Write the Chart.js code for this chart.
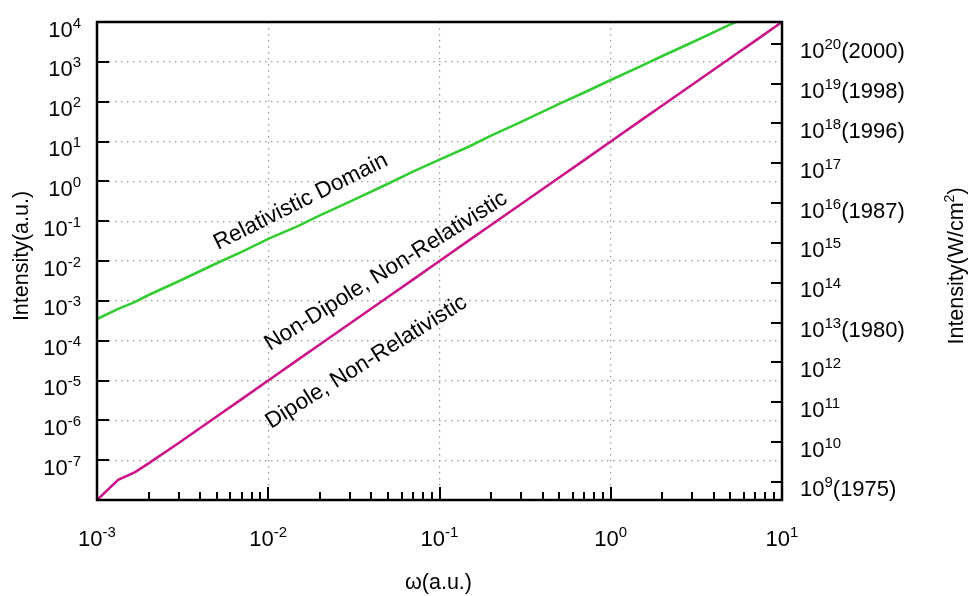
<!DOCTYPE html>
<html>
<head>
<meta charset="utf-8">
<script src="https://cdn.jsdelivr.net/npm/chart.js@4.4.0/dist/chart.umd.min.js"></script>
<style>
  html, body { margin: 0; padding: 0; background: #ffffff; }
  #wrap { width: 968px; height: 596px; position: relative; }
</style>
</head>
<body>
<div id="wrap"><canvas id="c" width="968" height="596"></canvas></div>
<script>
// Laser frequency (atomic units)
const omega = [0.001, 0.00133, 0.00167, 0.002, 0.003, 0.005, 0.007, 0.01, 0.015, 0.02, 0.03, 0.05, 0.07,
               0.1, 0.15, 0.2, 0.3, 0.5, 0.7, 1, 1.5, 2, 3, 5, 5.4, 7, 10];
// Boundary of the relativistic domain (a.u.)
const relativistic = [3.5e-4, 6.3e-4, 9.4e-4, 1.4e-3, 3.1e-3, 8.8e-3, 1.7e-2, 3.6e-2, 7.6e-2, 0.14, 0.31, 0.87, 1.75,
                      3.5, 7.6, 14, 31, 88, 170, 350, 780, 1400, 3100, 8700, 1.0e4, null, null];
// Boundary between dipole and non-dipole regimes (a.u.)
const dipole = [1.0e-8, 3.2e-8, 5.0e-8, 8.3e-8, 2.7e-7, 1.25e-6, 3.4e-6, 1.0e-5, 3.4e-5, 8.0e-5, 2.7e-4, 1.25e-3, 3.4e-3,
                1.0e-2, 3.4e-2, 8.0e-2, 0.27, 1.25, 3.4, 10, 34, 80, 270, 1250, 1570, 3400, 1.0e4];

// Axis ticks (exponents of ten)
const xTickExp = [-3, -2, -1, 0, 1];
const leftTickExp = [4, 3, 2, 1, 0, -1, -2, -3, -4, -5, -6, -7];
const rightTickExp = [20, 19, 18, 17, 16, 15, 14, 13, 12, 11, 10, 9];
const rightTickYears = { 20: '(2000)', 19: '(1998)', 18: '(1996)', 16: '(1987)', 13: '(1980)', 9: '(1975)' };

// 1 a.u. of intensity in W/cm^2
const AU_INTENSITY = 3.51e16;
const yMinAU = 1e-8, yMaxAU = 1e4;

const FONT = '"Liberation Sans", Arial, Helvetica, sans-serif';
const BASE_PX = 22, SUP_PX = 15;

function drawPower(ctx, exp, suffix, x, y, align) {
  ctx.font = BASE_PX + 'px ' + FONT;
  const wb = ctx.measureText('10').width;
  const wt = suffix ? ctx.measureText(suffix).width : 0;
  ctx.font = SUP_PX + 'px ' + FONT;
  const ws = ctx.measureText(String(exp)).width;
  const total = wb + ws + wt;
  const x0 = align === 'right' ? x - total : (align === 'center' ? x - total / 2 : x);
  ctx.textAlign = 'left';
  ctx.textBaseline = 'alphabetic';
  ctx.font = BASE_PX + 'px ' + FONT;
  ctx.fillText('10', x0, y);
  ctx.font = SUP_PX + 'px ' + FONT;
  ctx.fillText(String(exp), x0 + wb, y - 9);
  if (suffix) {
    ctx.font = BASE_PX + 'px ' + FONT;
    ctx.fillText(suffix, x0 + wb + ws, y);
  }
}

const regionLabels = [
  { text: 'Relativistic Domain', x: 218, y: 250, angle: 26.5, size: 22.5 },
  { text: 'Non-Dipole, Non-Relativistic', x: 270, y: 351, angle: 32, size: 22.5 },
  { text: 'Dipole, Non-Relativistic', x: 271, y: 429, angle: 32, size: 22.5 }
];

const decorations = {
  id: 'decorations',
  afterDraw(chart) {
    const ctx = chart.ctx;
    const a = chart.chartArea;
    const xs = chart.scales.x, yl = chart.scales.y, yr = chart.scales.y2;
    ctx.save();
    ctx.fillStyle = '#000';
    ctx.strokeStyle = '#000';

    // inward tick marks
    ctx.lineWidth = 2;
    ctx.beginPath();
    for (let e = -3; e <= 0; e++) {
      for (let m = 1; m <= 9; m++) {
        const v = m * Math.pow(10, e);
        const px = Math.round(xs.getPixelForValue(v));
        const len = m === 1 ? 13 : 8;
        ctx.moveTo(px, a.bottom);
        ctx.lineTo(px, a.bottom - len);
      }
    }
    leftTickExp.forEach(e => {
      const py = Math.round(yl.getPixelForValue(Math.pow(10, e)));
      ctx.moveTo(a.left, py);
      ctx.lineTo(a.left + 12, py);
    });
    rightTickExp.forEach(e => {
      const py = Math.round(yr.getPixelForValue(Math.pow(10, e)));
      ctx.moveTo(a.right, py);
      ctx.lineTo(a.right - 11, py);
    });
    ctx.stroke();

    // frame
    ctx.lineWidth = 2.5;
    ctx.strokeRect(a.left, a.top, a.right - a.left, a.bottom - a.top);

    // tick labels
    leftTickExp.forEach(e => {
      const py = yl.getPixelForValue(Math.pow(10, e));
      drawPower(ctx, e, '', a.left - 16, py + 14.5, 'right');
    });
    xTickExp.forEach(e => {
      const px = xs.getPixelForValue(Math.pow(10, e));
      drawPower(ctx, e, '', px, a.bottom + 46, 'center');
    });
    rightTickExp.forEach(e => {
      const py = yr.getPixelForValue(Math.pow(10, e));
      drawPower(ctx, e, rightTickYears[e] || '', a.right + 18, py + 14.5, 'left');
    });

    // axis titles
    ctx.font = '21.5px ' + FONT;
    ctx.textAlign = 'center';
    ctx.textBaseline = 'alphabetic';
    ctx.fillText('\u03c9(a.u.)', (a.left + a.right) / 2 - 1, 589);

    ctx.save();
    ctx.translate(28, 256);
    ctx.rotate(-Math.PI / 2);
    ctx.fillText('Intensity(a.u.)', 0, 0);
    ctx.restore();

    ctx.save();
    ctx.translate(963, 266);
    ctx.rotate(-Math.PI / 2);
    ctx.font = '21.5px ' + FONT;
    const p1 = 'Intensity(W/cm', p2 = ')';
    const w1 = ctx.measureText(p1).width, w3 = ctx.measureText(p2).width;
    ctx.font = '14px ' + FONT;
    const w2 = ctx.measureText('2').width;
    let x0 = -(w1 + w2 + w3) / 2;
    ctx.textAlign = 'left';
    ctx.font = '21.5px ' + FONT;
    ctx.fillText(p1, x0, 0);
    ctx.font = '14px ' + FONT;
    ctx.fillText('2', x0 + w1, -9);
    ctx.font = '21.5px ' + FONT;
    ctx.fillText(p2, x0 + w1 + w2, 0);
    ctx.restore();

    // region labels
    ctx.textAlign = 'left';
    regionLabels.forEach(l => {
      ctx.save();
      ctx.font = l.size + 'px ' + FONT;
      ctx.translate(l.x, l.y);
      ctx.rotate(-l.angle * Math.PI / 180);
      ctx.fillText(l.text, 0, 0);
      ctx.restore();
    });

    ctx.restore();
  }
};

const toPoints = ys => omega.map((w, i) => ({ x: w, y: ys[i] }));

const decadeTicks = (lo, hi) => {
  const t = [];
  for (let e = lo; e <= hi; e++) t.push({ value: Math.pow(10, e) });
  return t;
};

new Chart(document.getElementById('c'), {
  type: 'line',
  data: {
    datasets: [
      {
        label: 'Relativistic Domain',
        data: toPoints(relativistic),
        borderColor: '#33cc33',
        borderWidth: 2.6,
        pointRadius: 0,
        tension: 0,
        spanGaps: false
      },
      {
        label: 'Dipole / Non-Dipole',
        data: toPoints(dipole),
        borderColor: '#cc1488',
        borderWidth: 2.6,
        pointRadius: 0,
        tension: 0
      }
    ]
  },
  options: {
    responsive: false,
    animation: false,
    devicePixelRatio: 1,
    layout: { padding: { top: 22, left: 0, right: 0, bottom: 0 } },
    plugins: { legend: { display: false }, tooltip: { enabled: false } },
    scales: {
      x: {
        type: 'logarithmic',
        min: 1e-3,
        max: 1e1,
        afterBuildTicks: s => { s.ticks = decadeTicks(-3, 1); },
        afterFit: s => { s.height = 96; },
        ticks: { display: false },
        grid: { color: '#999999', lineWidth: 1.2, drawTicks: false },
        border: { display: false, dash: [1.5, 4.5] }
      },
      y: {
        type: 'logarithmic',
        position: 'left',
        min: yMinAU,
        max: yMaxAU,
        afterBuildTicks: s => { s.ticks = decadeTicks(-8, 4); },
        afterFit: s => { s.width = 97; },
        ticks: { display: false },
        grid: { color: '#999999', lineWidth: 1.2, drawTicks: false },
        border: { display: false, dash: [1.5, 4.5] }
      },
      y2: {
        type: 'logarithmic',
        position: 'right',
        min: yMinAU * AU_INTENSITY,
        max: yMaxAU * AU_INTENSITY,
        afterBuildTicks: s => { s.ticks = decadeTicks(9, 20); },
        afterFit: s => { s.width = 186; },
        ticks: { display: false },
        grid: { display: false, drawTicks: false },
        border: { display: false }
      }
    }
  },
  plugins: [decorations]
});
</script>
</body>
</html>
